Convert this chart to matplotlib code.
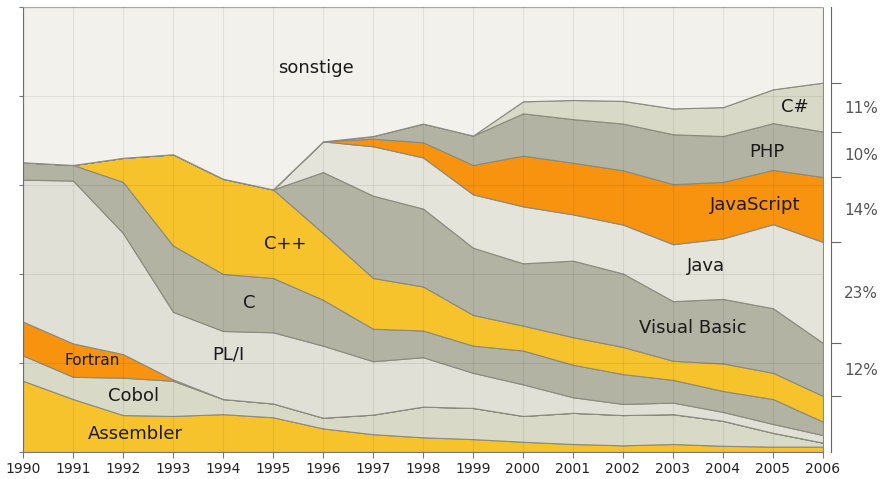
import matplotlib.pyplot as plt
import numpy as np

# tahun dan pangsa tiap bahasa (persen)
years = list(range(1990, 2007))

assembler = [16.0, 11.9, 8.3, 8.1, 8.5, 7.8, 5.3, 4.0, 3.3, 2.9, 2.3, 1.8, 1.5, 1.8, 1.4, 1.2, 1.2]
cobol     = [5.7, 5.0, 8.4, 7.9, 3.4, 3.1, 2.4, 4.4, 6.9, 7.0, 5.8, 7.0, 6.8, 6.7, 5.6, 3.1, 0.9]
fortran   = [7.6, 7.5, 5.3, 0.3, 0, 0, 0, 0, 0, 0, 0, 0, 0, 0, 0, 0, 0]
pli       = [31.9, 36.6, 27.2, 15.2, 15.3, 16.0, 16.2, 12.0, 11.1, 7.9, 7.1, 3.5, 2.5, 2.6, 2.0, 2.0, 1.7]
c_lang    = [3.9, 3.5, 11.5, 14.9, 12.8, 12.2, 10.3, 7.3, 6.0, 6.1, 7.6, 7.3, 6.7, 5.1, 4.7, 5.6, 3.0]
cpp       = [0, 0, 5.4, 20.5, 21.4, 19.9, 15.0, 11.4, 9.9, 6.9, 5.6, 6.2, 6.1, 4.3, 6.2, 5.9, 5.8]
vbasic    = [0, 0, 0, 0, 0, 0, 13.7, 18.5, 17.5, 15.1, 14.0, 17.2, 16.5, 13.4, 14.5, 14.5, 11.9]
java      = [0, 0, 0, 0, 0, 0, 6.9, 11.1, 11.5, 12.0, 12.8, 10.4, 11.0, 12.8, 13.6, 18.9, 22.7]
javascript = [0, 0, 0, 0, 0, 0, 0, 1.7, 3.4, 6.6, 11.4, 11.6, 12.2, 13.5, 12.7, 12.2, 14.6]
php       = [0, 0, 0, 0, 0, 0, 0, 0.6, 4.2, 6.6, 9.5, 9.8, 10.5, 11.2, 10.3, 10.5, 10.2]
csharp    = [0, 0, 0, 0, 0, 0, 0, 0, 0, 0, 2.7, 4.3, 5.1, 5.8, 6.5, 7.6, 11.0]

layers = [assembler, cobol, fortran, pli, c_lang, cpp, vbasic, java, javascript, php, csharp]
sonstige = list(100 - np.sum(layers, axis=0))
layers.append(sonstige)

right_labels = ["12%", "23%", "14%", "10%", "11%"]

yellow = "#f7c32c"
orange = "#f7930e"
beige = "#d9d9c7"
light = "#e0e0d6"
grey = "#b2b3a3"
colors = [yellow, beige, orange, light, grey, yellow, grey, "#e4e4da", orange, grey, beige, "#f2f1eb"]

fig = plt.figure(figsize=(8.89, 4.79), dpi=100)
ax = fig.add_axes([23 / 889, 27 / 479, 800 / 889, 445 / 479])

ax.stackplot(years, *layers, colors=colors, edgecolor="#8a8a7e", linewidth=0.8)

ax.set_xlim(1990, 2006)
ax.set_ylim(0, 100)
ax.set_xticks(years)
ax.set_xticklabels([str(y) for y in years], fontsize=10, color="#222222")
ax.set_yticks([0, 20, 40, 60, 80, 100])
ax.set_yticklabels([])
ax.tick_params(axis="x", length=4, width=0.8, color="#777777", pad=3)
ax.tick_params(axis="y", length=3, width=0.8, color="#777777")
ax.grid(True, color="#000000", alpha=0.07, linewidth=0.8)
ax.set_axisbelow(False)

for s in ["left", "bottom"]:
    ax.spines[s].set_color("#777777")
ax.spines["top"].set_color("#b5b5b5")
ax.spines["right"].set_visible(False)

# sumbu kanan: batas lapisan tahun 2006 dan label persen di tengahnya
cum = np.cumsum([row[-1] for row in layers])
bounds = [cum[5], cum[6], cum[7], cum[8], cum[9], cum[10]]
mids = [(bounds[i] + bounds[i + 1]) / 2 for i in range(5)]

ax2 = ax.twinx()
ax2.set_ylim(0, 100)
for s in ["left", "top", "bottom"]:
    ax2.spines[s].set_visible(False)
ax2.spines["right"].set_position(("outward", 6))
ax2.spines["right"].set_color("#666666")
ax2.set_yticks(bounds)
ax2.set_yticklabels([])
ax2.set_yticks(mids, minor=True)
ax2.set_yticklabels(right_labels, minor=True, fontsize=11, color="#555555")
ax2.tick_params(axis="y", which="major", length=7, width=0.8, color="#666666")
ax2.tick_params(axis="y", which="minor", length=0, pad=9)

# nama bahasa di dalam area
names = [
    ("sonstige", 1995.86, 86.3, 13),
    ("C#", 2005.44, 77.6, 13),
    ("PHP", 2004.88, 67.5, 13),
    ("JavaScript", 2004.64, 55.5, 13),
    ("Java", 2003.66, 41.8, 13),
    ("Visual Basic", 2003.4, 27.9, 13),
    ("C++", 1995.24, 46.8, 13),
    ("C", 1994.52, 33.5, 13),
    ("PL/I", 1994.1, 21.8, 13),
    ("Fortran", 1991.38, 20.5, 11),
    ("Cobol", 1992.22, 12.6, 13),
    ("Assembler", 1992.24, 4.0, 13),
]
for txt, x, y, fs in names:
    ax.text(x, y, txt, fontsize=fs, color="#1a1a1a", ha="center", va="center")

fig.savefig("out.png", dpi=100, facecolor="white")
